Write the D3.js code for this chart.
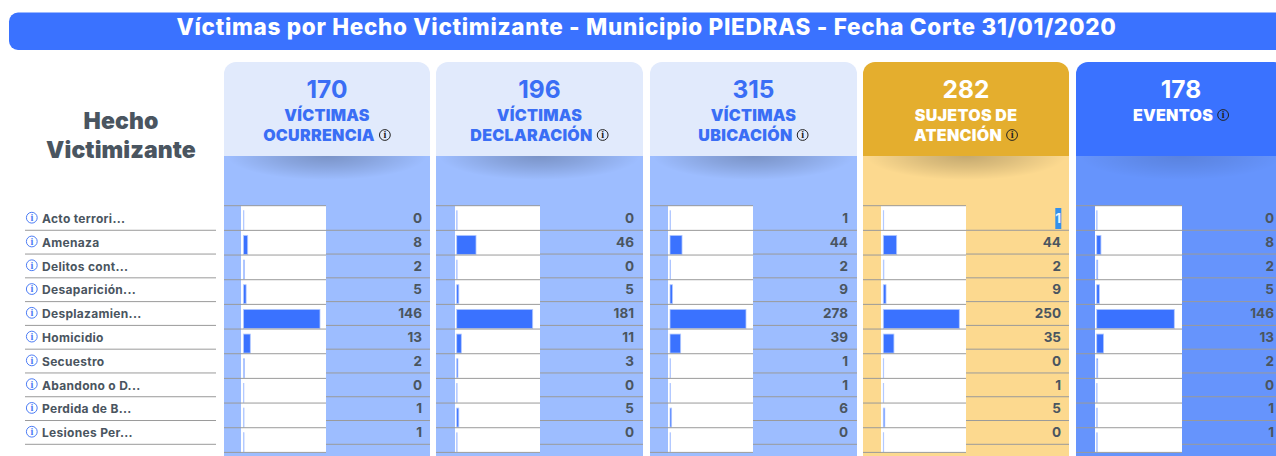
<!DOCTYPE html>
<html><head><meta charset="utf-8">
<script src="https://cdn.jsdelivr.net/npm/d3@7"></script>
<style>html,body{margin:0;padding:0;background:#fff;overflow:hidden}svg{display:block}</style>
</head><body><div id="c"></div>
<script>
const titleText="Víctimas por Hecho Victimizante - Municipio PIEDRAS - Fecha Corte 31/01/2020";
const rowHeading=["Hecho","Victimizante"];
const categories=["Acto terrori...","Amenaza","Delitos cont...","Desaparición...","Desplazamien...","Homicidio","Secuestro","Abandono o D...","Perdida de B...","Lesiones Per..."];
const totals=[170,196,315,282,178];
const headLines=[["VÍCTIMAS","OCURRENCIA"],["VÍCTIMAS","DECLARACIÓN"],["VÍCTIMAS","UBICACIÓN"],["SUJETOS DE","ATENCIÓN"],["EVENTOS"]];
const ocurrencia=[0,8,2,5,146,13,2,0,1,1];
const declaracion=[0,46,0,5,181,11,3,0,5,0];
const ubicacion=[1,44,2,9,278,39,1,1,6,0];
const sujetos=[1,44,2,9,250,35,0,1,5,0];
const eventos=[0,8,2,5,146,13,2,0,1,1];
const seriesList=[ocurrencia,declaracion,ubicacion,sujetos,eventos];
const panelLeft=[224,436,650,863,1076];
const panelWidth=[206,207,207,206,210];
const cellLeft=[241,455,668,881,1095];
const cellRight=[326,540,753,966,1182];
const barLeft=[243.5,456.7,670,883.3,1096.7];
const barMax=[76.5,76,76,76,77.6];
const headFill=["#e1eafc","#e1eafc","#e1eafc","#e4ae2e","#3a72ff"];
const bodyFill=["#9dbdff","#9dbdff","#9dbdff","#fcd98f","#6694fc"];
const numFill=["#3a6ef5","#3a6ef5","#3a6ef5","#fff","#fff"];
const shadowOpacity=[1,1,1,1,.55];
const W=1276,H=456,font="'Inter','Open Sans',sans-serif",dark="#4a5560";
const svg=d3.select("#c").append("svg").attr("width",W).attr("height",H);
const defs=svg.append("defs");
const grad=defs.append("radialGradient").attr("id","sh");
grad.append("stop").attr("offset","0%").attr("stop-color","#000").attr("stop-opacity",.22);
grad.append("stop").attr("offset","45%").attr("stop-color","#000").attr("stop-opacity",.13);
grad.append("stop").attr("offset","100%").attr("stop-color","#000").attr("stop-opacity",0);
defs.append("clipPath").attr("id","below").append("rect").attr("y",156).attr("width",W).attr("height",300);
const root=svg.append("g");
root.append("rect").attr("x",9).attr("y",12.5).attr("width",1280).attr("height",37.5).attr("rx",9).attr("fill","#3a72ff");
root.append("text").attr("x",646.5).attr("y",34.5).attr("text-anchor","middle").attr("fill","#fff").attr("font-family",font).attr("font-weight",800).attr("font-size",22.5).attr("letter-spacing",.7).text(titleText);
root.selectAll("text.rh").data(rowHeading).join("text").attr("class","rh").attr("x",121).attr("y",(d,i)=>129+i*28.5).attr("text-anchor","middle").attr("fill",dark).attr("font-family",font).attr("font-weight",900).attr("font-size",23).attr("letter-spacing",.1).text(d=>d);
const y=d3.scaleBand().domain(categories).range([206.5,444.3]);
const yBar=d3.scaleBand().domain(categories).range([205.7,452.4]);
function info(g,x,cy,r,c){
  const i=g.append("g").attr("transform",`translate(${x},${cy})`);
  i.append("circle").attr("r",r).attr("fill","none").attr("stroke",c).attr("stroke-width",1);
  i.append("text").attr("y",r*.62).attr("text-anchor","middle").attr("fill",c).attr("font-family","'Liberation Serif',serif").attr("font-weight",700).attr("font-size",r*1.9).text("i");
}
const lab=root.append("g");
categories.forEach(c=>{
  const b=y(c);
  info(lab,31.8,b+11.2,5.4,"#4d7df5");
  lab.append("text").attr("x",42).attr("y",b+16.6).attr("fill",dark).attr("font-family",font).attr("font-weight",700).attr("font-size",12).attr("letter-spacing",.3).text(c);
  lab.append("line").attr("x1",25).attr("x2",216).attr("y1",b+y.bandwidth()).attr("y2",b+y.bandwidth()).attr("stroke","#9a9a9a");
});
seriesList.forEach((vals,k)=>{
  const L=panelLeft[k],w=panelWidth[k],g=root.append("g"),cx=L+w/2;
  const p=d3.path();p.moveTo(L,156);p.lineTo(L,74);p.arcTo(L,62,L+12,62,12);p.lineTo(L+w-12,62);p.arcTo(L+w,62,L+w,74,12);p.lineTo(L+w,156);p.closePath();
  g.append("path").attr("d",p.toString()).attr("fill",headFill[k]);
  g.append("rect").attr("x",L).attr("y",156).attr("width",w).attr("height",300).attr("fill",bodyFill[k]);
  g.append("g").attr("clip-path","url(#below)").append("ellipse").attr("cx",cx).attr("cy",156).attr("rx",w/2-3).attr("ry",24).attr("fill","url(#sh)").attr("opacity",shadowOpacity[k]);
  g.append("text").attr("x",cx).attr("y",98).attr("text-anchor","middle").attr("fill",numFill[k]).attr("font-family",font).attr("font-weight",700).attr("font-size",24.5).text(totals[k]);
  headLines[k].forEach((t,i)=>{
    const last=i==headLines[k].length-1;
    const tx=g.append("text").attr("x",cx-(last?8:0)).attr("y",121+i*20).attr("text-anchor","middle").attr("fill",numFill[k]).attr("font-family",font).attr("font-weight",900).attr("font-size",16).attr("letter-spacing",.3).text(t);
    if(last){
      const tw=tx.node().getComputedTextLength();
      info(g,cx-8+tw/2+10,115+i*20,5.4,"#222");
    }
  });
  const x=d3.scaleLinear().domain([0,d3.max(vals)]).range([0,barMax[k]]);
  const cell=g.append("g");
  cell.append("rect").attr("x",cellLeft[k]).attr("y",206).attr("width",cellRight[k]-cellLeft[k]).attr("height",246.8).attr("fill","#fff");
  cell.selectAll("rect.bar").data(vals).join("rect").attr("class","bar")
    .attr("x",barLeft[k]).attr("y",(v,i)=>yBar(categories[i])+5).attr("width",v=>Math.max(x(v),.4)).attr("height",19)
    .attr("fill","#3a72ff").attr("stroke","#b4caff").attr("stroke-width",.8);
  [205.7].concat(categories.map(c=>yBar(c)+yBar.bandwidth())).forEach(v=>g.append("line").attr("x1",L).attr("x2",cellRight[k]).attr("y1",v).attr("y2",v).attr("stroke","#9a9a9a"));
  categories.forEach(c=>{const v=y(c)+y.bandwidth();g.append("line").attr("x1",cellRight[k]).attr("x2",L+w).attr("y1",v).attr("y2",v).attr("stroke","#9a9a9a");});
  if(k==3) g.append("rect").attr("x",1055.3).attr("y",208).attr("width",6).attr("height",21).attr("fill","#3390ec");
  categories.forEach((c,i)=>g.append("text").attr("x",L+198).attr("y",y(c)+16.6).attr("text-anchor","end").attr("fill",k==3&&i==0?"#e8f2ff":dark).attr("font-family",font).attr("font-weight",700).attr("font-size",13.5).text(vals[i]));
});
</script></body></html>
